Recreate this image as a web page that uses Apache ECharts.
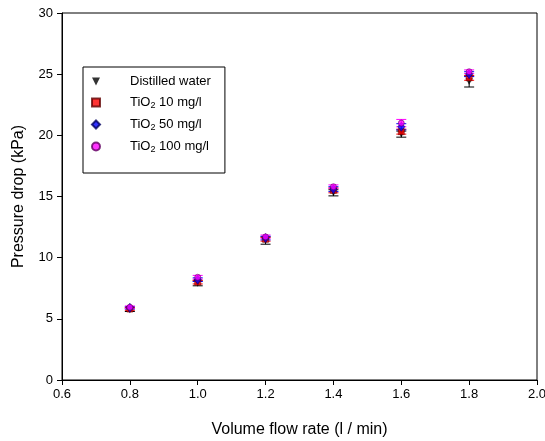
<!DOCTYPE html>
<html>
<head>
<meta charset="utf-8">
<script src="https://cdn.jsdelivr.net/npm/echarts@6/dist/echarts.min.js"></script>
<style>html,body{margin:0;padding:0;background:#fff}#c{width:545px;height:441px}</style>
</head>
<body>
<div id="c"></div>
<script>
const flowRates = [0.8, 1.0, 1.2, 1.4, 1.6, 1.8];
const waterVals = [5.75, 7.9, 11.4, 15.3, 20.1, 24.4];
const waterErr  = [0.15, 0.2, 0.3, 0.25, 0.25, 0.45];
const tio10Vals = [5.8, 8.0, 11.5, 15.5, 20.3, 24.7];
const tio10Err  = [0.1, 0.15, 0.15, 0.2, 0.2, 0.2];
const tio50Vals = [5.9, 8.2, 11.6, 15.6, 20.7, 25.0];
const tio50Err  = [0.1, 0.15, 0.15, 0.2, 0.25, 0.2];
const tio100Vals = [5.95, 8.4, 11.7, 15.8, 21.0, 25.2];
const tio100Err  = [0.1, 0.15, 0.15, 0.15, 0.3, 0.15];
const xTicks = [0.6, 0.8, 1.0, 1.2, 1.4, 1.6, 1.8, 2.0];
const yTicks = [0, 5, 10, 15, 20, 25, 30];

const names = ['Distilled water', 'TiO2 10 mg/l', 'TiO2 50 mg/l', 'TiO2 100 mg/l'];
const vals = [waterVals, tio10Vals, tio50Vals, tio100Vals];
const errs = [waterErr, tio10Err, tio50Err, tio100Err];
const symbols = ['path://M0,0 L10,0 L5,10 Z', 'rect', 'diamond', 'circle'];
const sizes = [[7, 7], 6, [7, 9], 6];
const fills = ['#000000', '#ff0000', '#0000ff', '#ff00ff'];
const edges = ['#000000', '#600000', '#000060', '#600060'];
const errColors = ['#000000', '#ff0000', '#0000ff', '#ff00ff'];

const series = [];
for (let s = 0; s < 4; s++) {
  const ed = flowRates.map((x, i) => [x, vals[s][i] - errs[s][i], vals[s][i] + errs[s][i]]);
  series.push({
    type: 'custom',
    name: names[s] + ' err',
    data: ed,
    z: 2,
    silent: true,
    renderItem: function (params, api) {
      const lo = api.coord([api.value(0), api.value(1)]);
      const hi = api.coord([api.value(0), api.value(2)]);
      const w = 5;
      const st = { stroke: errColors[s], lineWidth: 1 };
      return {
        type: 'group',
        children: [
          { type: 'line', shape: { x1: lo[0], y1: lo[1], x2: hi[0], y2: hi[1] }, style: st },
          { type: 'line', shape: { x1: lo[0] - w, y1: lo[1], x2: lo[0] + w, y2: lo[1] }, style: st },
          { type: 'line', shape: { x1: hi[0] - w, y1: hi[1], x2: hi[0] + w, y2: hi[1] }, style: st }
        ]
      };
    }
  });
}
for (let s = 0; s < 4; s++) {
  series.push({
    type: 'scatter',
    name: names[s],
    data: flowRates.map((x, i) => [x, vals[s][i]]),
    symbol: symbols[s],
    symbolSize: sizes[s],
    z: 3,
    itemStyle: { color: fills[s], borderColor: edges[s], borderWidth: s === 0 ? 0 : 0.7 }
  });
}

const FF = 'Liberation Sans, Arial, sans-serif';
const chart = echarts.init(document.getElementById('c'));
const axisCommon = {
  axisLine: { show: true, onZero: false, lineStyle: { color: '#000', width: 1 } },
  axisTick: { show: true, inside: false, length: 5, lineStyle: { color: '#000' } },
  splitLine: { show: false },
  axisLabel: { color: '#000', fontSize: 13, fontFamily: FF },
  nameTextStyle: { color: '#000', fontSize: 16, fontFamily: FF }
};
chart.setOption({
  animation: false,
  backgroundColor: '#fff',
  grid: { left: 62, right: 8, top: 13, bottom: 61, outerBoundsMode: 'none', containLabel: false, show: true, borderColor: '#000', borderWidth: 1, backgroundColor: 'transparent' },
  xAxis: Object.assign({}, axisCommon, {
    type: 'value', min: 0.6, max: 2.0, interval: 0.2,
    name: 'Volume flow rate (l / min)', nameLocation: 'middle', nameGap: 42,
    axisLabel: Object.assign({}, axisCommon.axisLabel, {
      margin: 8,
      formatter: v => { const t = xTicks.find(k => Math.abs(k - v) < 1e-6); return t !== undefined ? t.toFixed(1) : ''; }
    })
  }),
  yAxis: Object.assign({}, axisCommon, {
    type: 'value', min: 0, max: 30, interval: 5,
    name: 'Pressure drop (kPa)', nameLocation: 'middle', nameGap: 35,
    axisLabel: Object.assign({}, axisCommon.axisLabel, {
      margin: 9,
      formatter: v => { const t = yTicks.find(k => Math.abs(k - v) < 1e-6); return t !== undefined ? String(t) : ''; }
    })
  }),
  legend: {
    data: names,
    orient: 'vertical',
    left: 83, top: 67,
    backgroundColor: '#fff',
    borderColor: '#000', borderWidth: 1,
    padding: [8, 14, 19, 8],
    itemWidth: 8, itemHeight: 8, itemGap: 8,
    selectedMode: false,
    textStyle: {
      color: '#000', fontSize: 13, fontFamily: FF,
      padding: [0, 0, 0, 25],
      rich: {
        a: { fontSize: 13, lineHeight: 15, color: '#000', fontFamily: FF },
        sub: { fontSize: 9, lineHeight: 15, color: '#000', verticalAlign: 'bottom', fontFamily: FF }
      }
    },
    formatter: function (n) {
      if (n.indexOf('TiO2') === 0) return '{a|TiO}{sub|2}{a|' + n.slice(4) + '}';
      return '{a|' + n + '}';
    }
  },
  series: series
});
</script>
</body>
</html>
